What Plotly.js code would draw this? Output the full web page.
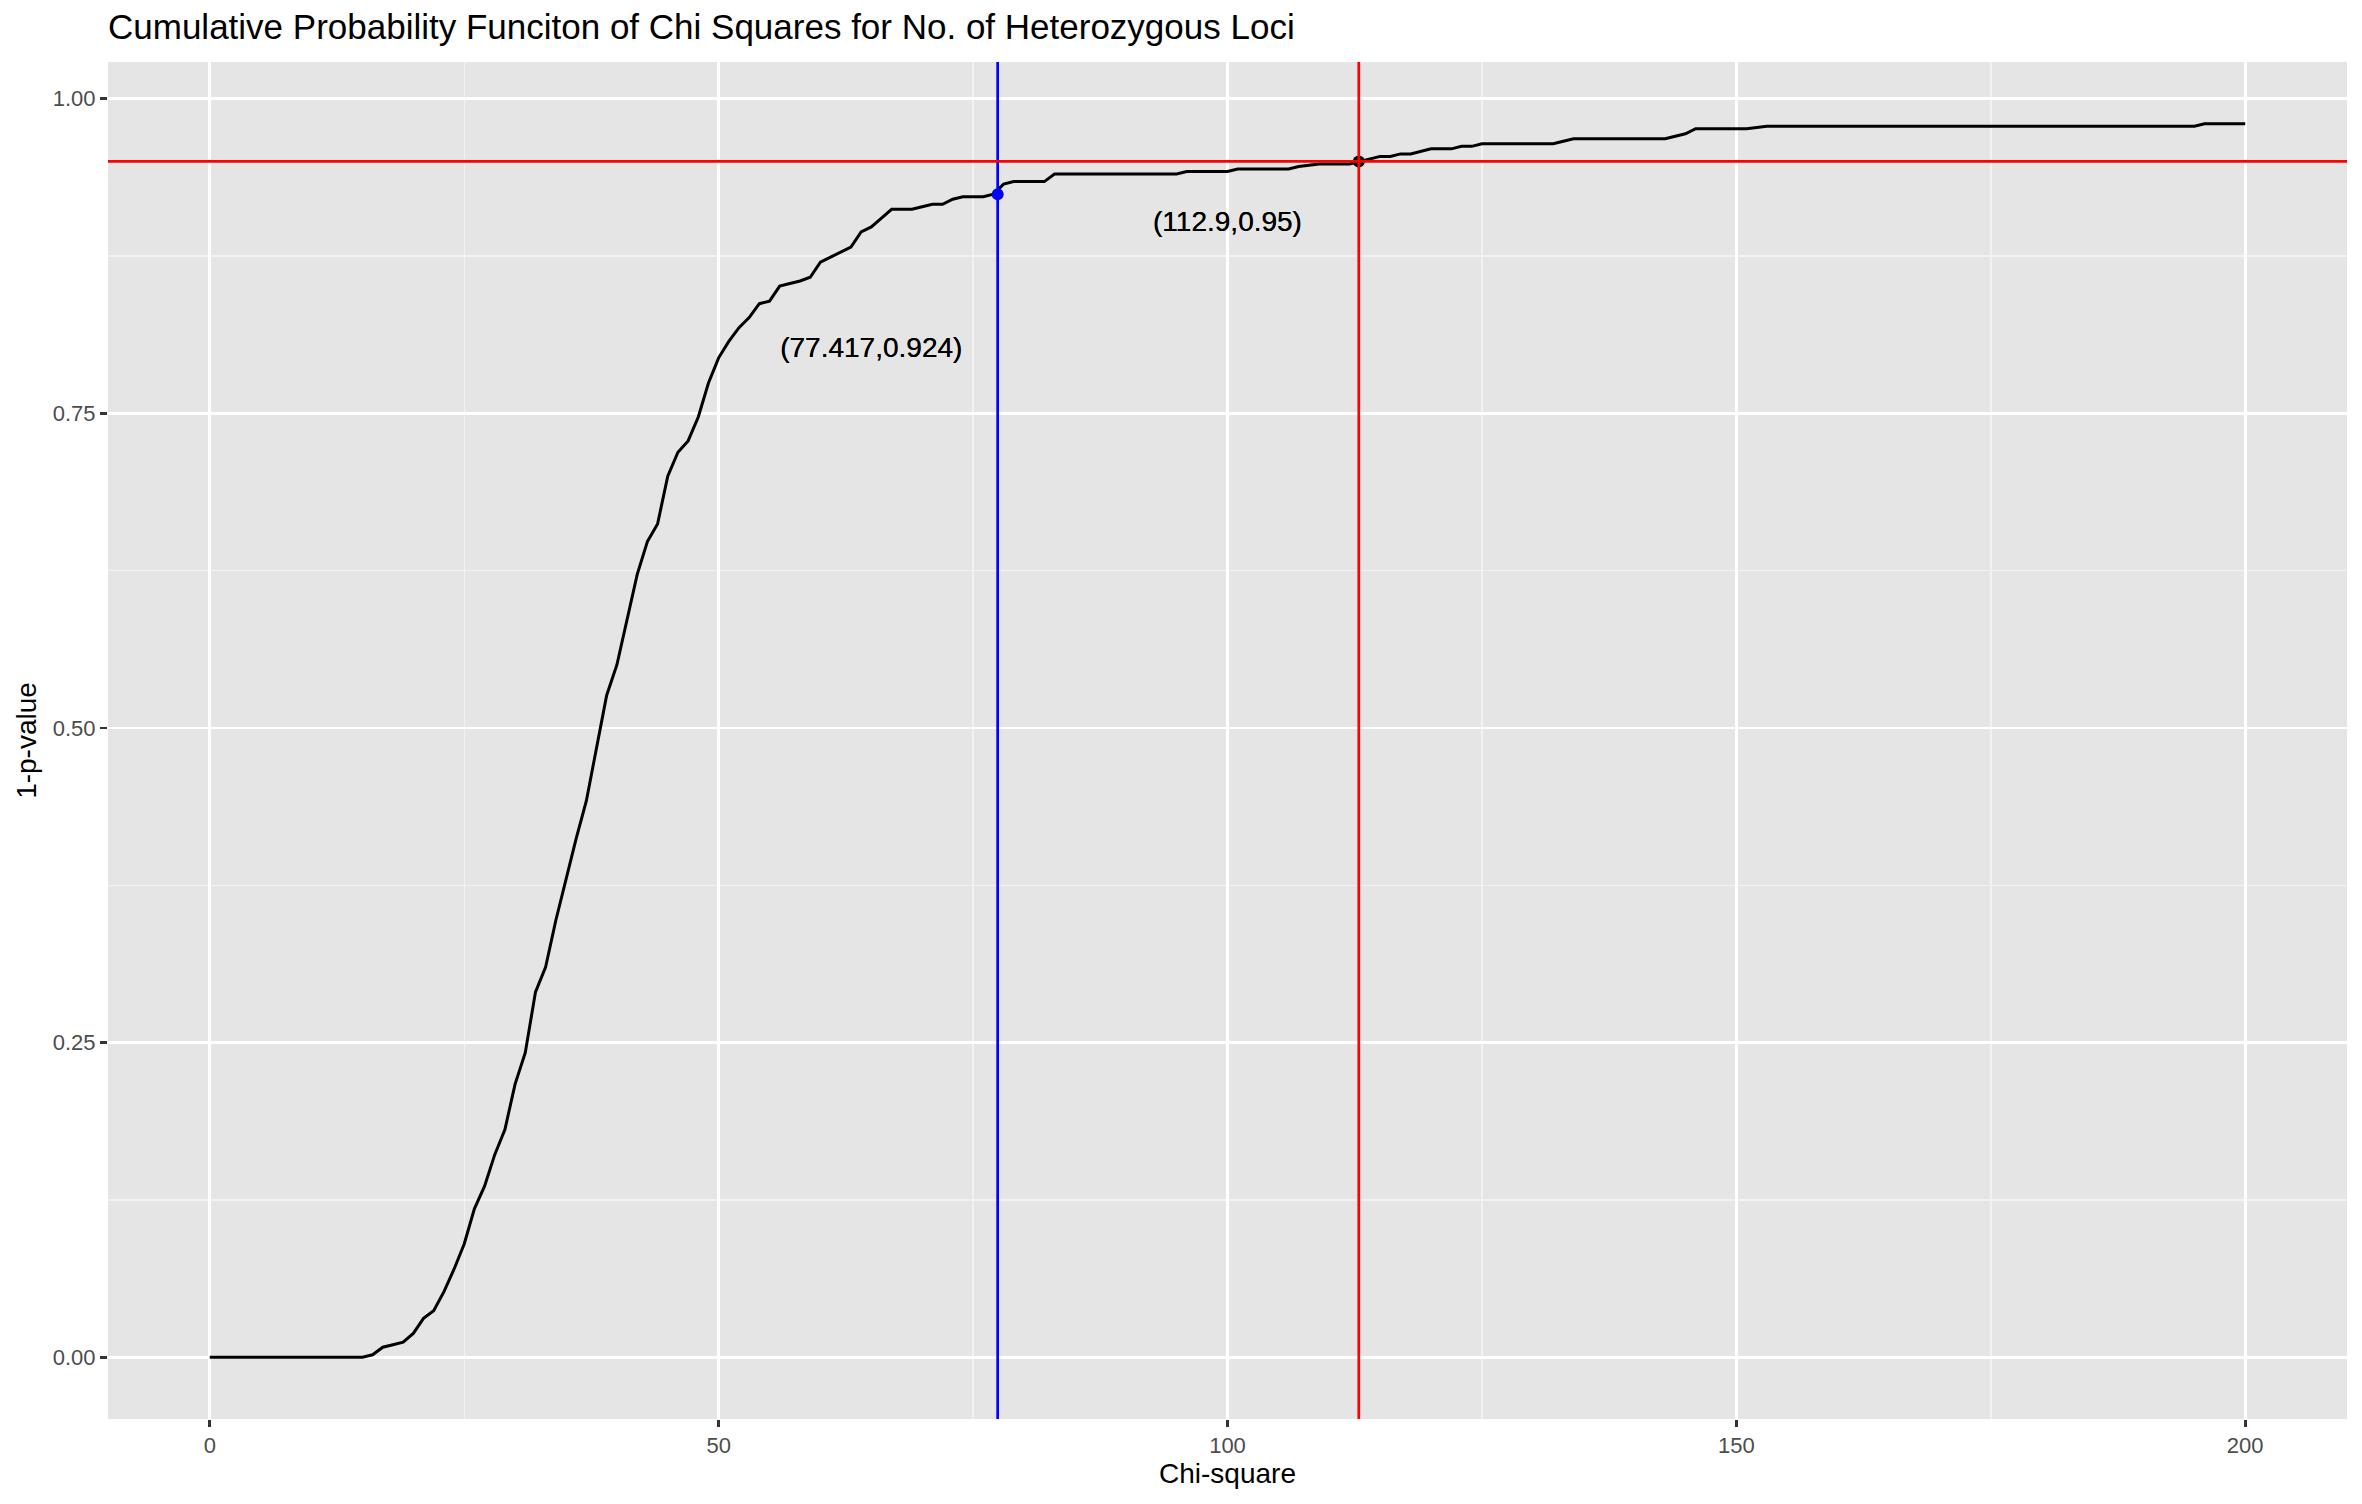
<!DOCTYPE html>
<html>
<head>
<meta charset="utf-8">
<script src="https://cdn.plot.ly/plotly-3.0.1.min.js"></script>
<style>
  html, body { margin: 0; padding: 0; background: #ffffff; }
  #plot { width: 2362px; height: 1504px; }
</style>
</head>
<body>
<div id="plot"></div>
<script>
// chi-square values 0..200 and the 1-p-value
const chiSquare = []
for (let i = 0; i <= 200; i++) chiSquare.push(i)

const oneMinusP = [
  0, 0, 0, 0, 0, 0, 0, 0, 0, 0,                                   // 0-9
  0, 0, 0, 0, 0, 0, 0.002, 0.008, 0.010, 0.012,                   // 10-19
  0.019, 0.031, 0.037, 0.052, 0.070, 0.090, 0.118, 0.136, 0.161, 0.181, // 20-29
  0.217, 0.242, 0.290, 0.310, 0.347, 0.380, 0.412, 0.442, 0.483, 0.526, // 30-39
  0.550, 0.587, 0.622, 0.648, 0.662, 0.700, 0.719, 0.728, 0.747, 0.774, // 40-49
  0.794, 0.807, 0.818, 0.826, 0.837, 0.839, 0.851, 0.853, 0.855, 0.858, // 50-59
  0.870, 0.874, 0.878, 0.882, 0.894, 0.898, 0.905, 0.912, 0.912, 0.912, // 60-69
  0.914, 0.916, 0.916, 0.920, 0.922, 0.922, 0.922, 0.924, 0.932, 0.934, // 70-79
  0.934, 0.934, 0.934, 0.940, 0.940, 0.940, 0.940, 0.940, 0.940, 0.940, // 80-89
  0.940, 0.940, 0.940, 0.940, 0.940, 0.940, 0.942, 0.942, 0.942, 0.942, // 90-99
  0.942, 0.944, 0.944, 0.944, 0.944, 0.944, 0.944, 0.946, 0.947, 0.948, // 100-109
  0.948, 0.948, 0.948, 0.950, 0.952, 0.954, 0.954, 0.956, 0.956, 0.958, // 110-119
  0.960, 0.960, 0.960, 0.962, 0.962, 0.964, 0.964, 0.964, 0.964, 0.964, // 120-129
  0.964, 0.964, 0.964, 0.966, 0.968, 0.968, 0.968, 0.968, 0.968, 0.968, // 130-139
  0.968, 0.968, 0.968, 0.968, 0.970, 0.972, 0.976, 0.976, 0.976, 0.976, // 140-149
  0.976, 0.976, 0.977, 0.978, 0.978, 0.978, 0.978, 0.978, 0.978, 0.978, // 150-159
  0.978, 0.978, 0.978, 0.978, 0.978, 0.978, 0.978, 0.978, 0.978, 0.978, // 160-169
  0.978, 0.978, 0.978, 0.978, 0.978, 0.978, 0.978, 0.978, 0.978, 0.978, // 170-179
  0.978, 0.978, 0.978, 0.978, 0.978, 0.978, 0.978, 0.978, 0.978, 0.978, // 180-189
  0.978, 0.978, 0.978, 0.978, 0.978, 0.978, 0.980, 0.980, 0.980, 0.980, // 190-199
  0.980                                                            // 200
]

// marked points and their labels
const markX = [77.417, 112.9]
const markY = [0.924, 0.95]
const markColors = ['#0000FF', '#000000']
const labelX = [65, 100]
const labelY = [0.80, 0.90]
const labelText = ['(77.417,0.924)', '(112.9,0.95)']

// reference lines
const vlineX = [77.417, 112.9]
const vlineColors = ['#0000FF', '#FF0000']
const hlineY = [0.95]

const font = '"Liberation Sans", Arial, Helvetica, sans-serif'

let traces = [
  {
    x: chiSquare,
    y: oneMinusP,
    type: 'scatter',
    mode: 'lines',
    line: { color: '#000000', width: 3 },
    hoverinfo: 'skip'
  },
  {
    x: labelX,
    y: labelY,
    type: 'scatter',
    mode: 'text',
    text: labelText,
    textposition: 'middle center',
    // the labels look heavier in the original (drawn many times over)
    textfont: { family: font, size: 28, color: '#000000', shadow: '0px 0px 0.6px #000000' },
    hoverinfo: 'skip'
  },
  {
    x: markX,
    y: markY,
    type: 'scatter',
    mode: 'markers',
    marker: { color: markColors, size: 12 },
    hoverinfo: 'skip'
  }
]

let shapes = []
vlineX.forEach((v, i) => {
  shapes.push({
    type: 'line', xref: 'x', yref: 'paper', x0: v, x1: v, y0: 0, y1: 1,
    line: { color: vlineColors[i], width: 2.7 }, layer: 'above'
  })
})
hlineY.forEach(h => {
  shapes.push({
    type: 'line', xref: 'paper', yref: 'y', x0: 0, x1: 1, y0: h, y1: h,
    line: { color: '#FF0000', width: 2.7 }, layer: 'above'
  })
})

let layout = {
  width: 2362,
  height: 1504,
  margin: { l: 108, r: 15, t: 62, b: 85 },
  paper_bgcolor: '#FFFFFF',
  plot_bgcolor: '#E5E5E5',
  showlegend: false,
  font: { family: font, color: '#000000' },
  title: {
    text: 'Cumulative Probability Funciton of Chi Squares for No. of Heterozygous Loci',
    font: { family: font, size: 35, color: '#000000' },
    xref: 'paper', x: 0, xanchor: 'left',
    yref: 'container', y: 1 - 27 / 1504, yanchor: 'middle'
  },
  xaxis: {
    range: [-10, 210],
    tickvals: [0, 50, 100, 150, 200],
    ticktext: ['0', '50', '100', '150', '200'],
    ticks: 'outside', ticklen: 7, tickwidth: 2.7, tickcolor: '#333333',
    tickfont: { family: font, size: 22, color: '#4D4D4D' },
    showgrid: true, gridcolor: '#FFFFFF', gridwidth: 2.7,
    minor: { tickvals: [25, 75, 125, 175], showgrid: true, gridcolor: '#F2F2F2', gridwidth: 1.4, ticks: '' },
    zeroline: false, showline: false,
    title: { text: 'Chi-square', font: { family: font, size: 28, color: '#000000' }, standoff: 5 }
  },
  yaxis: {
    range: [-0.049, 1.029],
    tickvals: [0, 0.25, 0.5, 0.75, 1],
    ticktext: ['0.00', '0.25', '0.50', '0.75', '1.00'],
    ticks: 'outside', ticklen: 7, tickwidth: 2.7, tickcolor: '#333333',
    tickfont: { family: font, size: 22, color: '#4D4D4D' },
    showgrid: true, gridcolor: '#FFFFFF', gridwidth: 2.7,
    minor: { tickvals: [0.125, 0.375, 0.625, 0.875], showgrid: true, gridcolor: '#F2F2F2', gridwidth: 1.4, ticks: '' },
    zeroline: false, showline: false,
    title: { text: '1-p-value', font: { family: font, size: 28, color: '#000000' }, standoff: 7 }
  },
  shapes: shapes
}

Plotly.newPlot('plot', traces, layout, { staticPlot: true, displayModeBar: false })
</script>
</body>
</html>
